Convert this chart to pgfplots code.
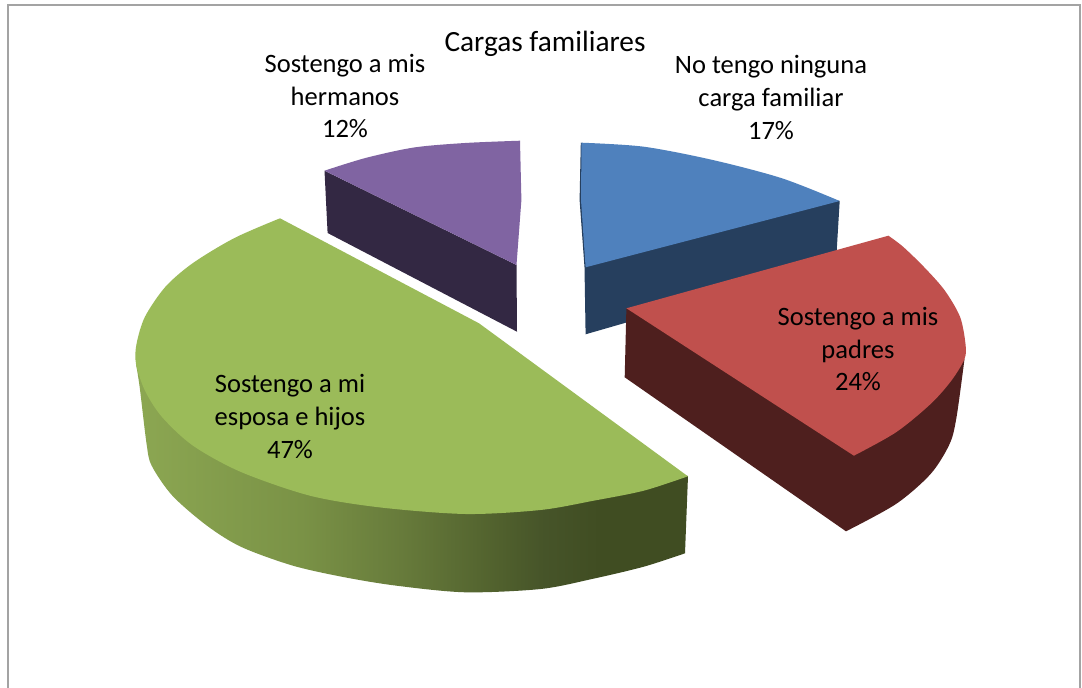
\documentclass[border=0pt]{standalone}
\usepackage{pgfplots}
\pgfplotsset{compat=1.18}
\usepackage{fontspec}
\setmainfont{Carlito}
\definecolor{cblue}{HTML}{4F81BD}
\definecolor{cblued}{HTML}{263F5E}
\definecolor{cred}{HTML}{C0504D}
\definecolor{credd}{HTML}{4E1F1E}
\definecolor{cgreen}{HTML}{9BBB59}
\definecolor{cpurple}{HTML}{8064A2}
\definecolor{cpurpled}{HTML}{332843}
\definecolor{cframe}{HTML}{A3A3A3}
\definecolor{gsa}{RGB}{140,167,82}
\definecolor{gsb}{RGB}{122,146,70}
\definecolor{gsc}{RGB}{103,123,59}
\definecolor{gsd}{RGB}{80,96,45}
\definecolor{gse}{RGB}{70,84,41}
\definecolor{gsf}{RGB}{64,77,34}
\pgfdeclarehorizontalshading{greenside}{100bp}{%
 color(0bp)=(gsa);
 color(25bp)=(gsa);
 color(40bp)=(gsb);
 color(49bp)=(gsc);
 color(58bp)=(gsd);
 color(62bp)=(gse);
 color(67bp)=(gsf);
 color(100bp)=(gsf)}
\tikzset{lbl/.style={font=\fontsize{19.9}{24.4}\selectfont,align=center,text=black,inner sep=0pt,anchor=center}}
\begin{document}
\begin{tikzpicture}
\begin{axis}[
  width=811.5pt,height=516pt,scale only axis,
  xmin=0,xmax=1082,ymin=0,ymax=688,y dir=reverse,
  axis lines=none,clip=true,
  every axis plot/.append style={draw=none,line width=0pt,mark=none},
]
% background and frame
\addplot[fill=white] coordinates {(0,0)(1082,0)(1082,688)(0,688)} --cycle;
\addplot[draw=cframe,line width=1.3pt,fill=none] coordinates {(8,690)(8,5)(1080,5)(1080,690)};
% blue slice: No tengo ninguna carga familiar 17
\addplot[fill=cblued] coordinates {(839.7,201)(836,262)(585.6,334.3)(584.5,267.3)(579.6,200)(580.8,142.7)} --cycle;
\addplot[fill=cblue,smooth] coordinates {(581.5,142.7)(643.7,146.7)(712.8,160)(782,178.3)(839.7,201)} -- (axis cs:585.6,267.3) -- (axis cs:581,200) -- cycle;
% purple slice: Sostengo a mis hermanos 12
\addplot[fill=cpurpled] coordinates {(324.5,170.7)(327.6,233)(517,331.7)(516.5,265)} --cycle;
\addplot[fill=cpurple,smooth] coordinates {(324.5,170.7)(365.5,158)(414,147.5)(465,143)(520,140.7)} -- (axis cs:521.4,200) -- (axis cs:516.5,265) -- cycle;
% green slice: Sostengo a mi esposa e hijos 47
\addplot[shading=greenside,smooth] coordinates {(136,364)(139.7,387.3)(146.6,444)(151.7,465.7)(172.4,495.7)(207,525.7)(241.4,547)(293,565.7)(344.8,577.3)(396.6,585.7)(465.5,592.3)(540.7,589)(592,579)(643.7,566.7)(685,553.3)} -- (axis cs:688,476) -- cycle;
\addplot[fill=cgreen,smooth] coordinates {(687.9,476.3)(643.7,490.7)(592,501)(540.4,510)(465.5,514)(379,507.3)(310,495.7)(241,472)(193,445.7)(162,417)(145,390.7)(136,364)(136.5,344)(145,316.7)(165.5,286.7)(193,263)(234.5,238)(280,218.3)} -- (axis cs:479,323.3) -- cycle;
% red slice: Sostengo a mis padres 24
\addplot[fill=credd,smooth] coordinates {(846,531.3)(896,504)(930.6,474)(949.6,444)(956.5,417.3)(964.5,359)} -- (axis cs:626.4,308.3) -- (axis cs:624.7,377.3) -- cycle;
\addplot[fill=cred,smooth] coordinates {(853.9,455.7)(896,432.3)(930.6,404)(951.3,380.7)(964.5,359)(965.5,344)(960,316.7)(944.4,290)(923.7,266.7)(903,246.7)(888.4,235.7)} -- (axis cs:626.4,308.3) -- cycle;
% labels
\node[lbl,font=\fontsize{22}{26}\selectfont] at (axis cs:545,44) {Cargas familiares};
\node[lbl] at (axis cs:345,96) {Sostengo a mis\\hermanos\\12\%};
\node[lbl] at (axis cs:771,97.5) {No tengo ninguna\\carga familiar\\17\%};
\node[lbl] at (axis cs:858,349) {Sostengo a mis\\padres\\24\%};
\node[lbl] at (axis cs:290,416.5) {Sostengo a mi\\esposa e hijos\\47\%};
\end{axis}
\end{tikzpicture}
\end{document}
